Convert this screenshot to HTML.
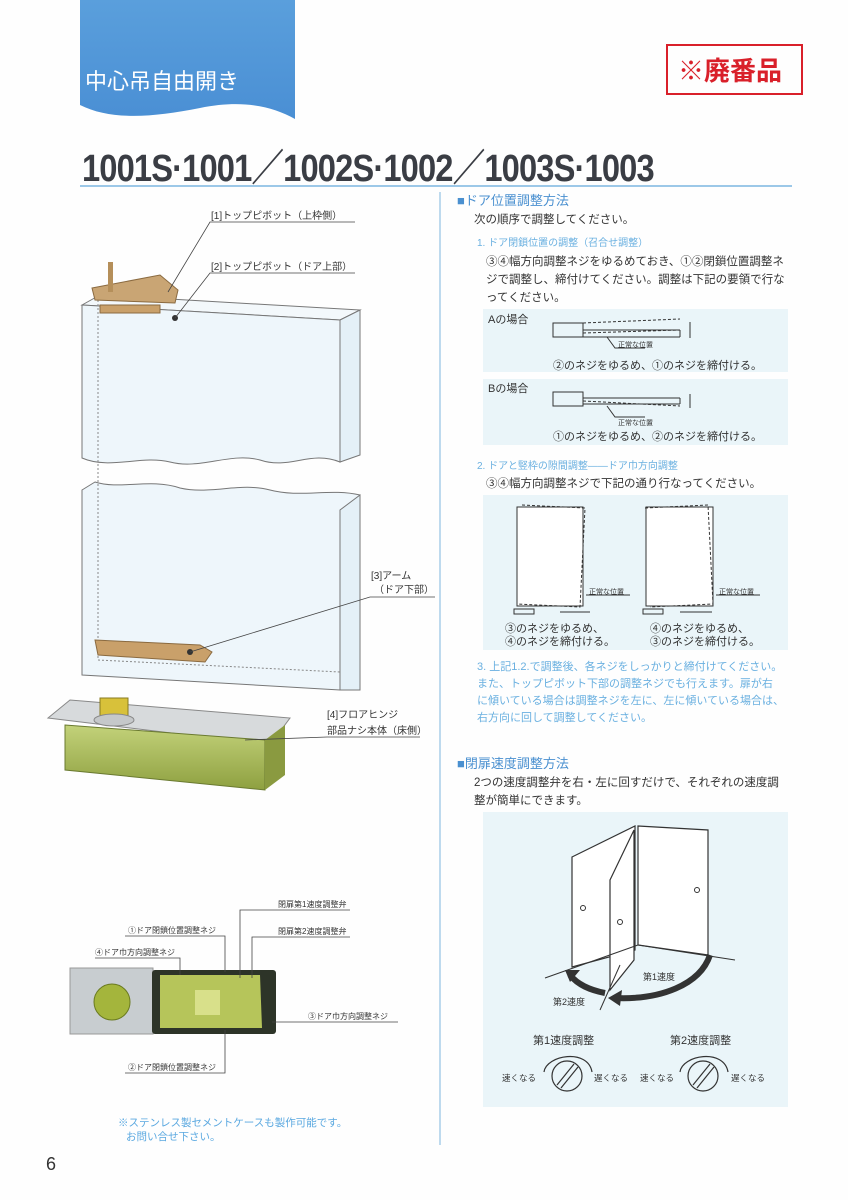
<!DOCTYPE html>
<html><head><meta charset="utf-8"><style>
html,body{margin:0;padding:0;background:#fff}
svg{display:block}
text{font-family:"Liberation Sans","Noto Sans CJK JP",sans-serif}
</style></head><body>
<svg width="848" height="1200" viewBox="0 0 848 1200" xmlns="http://www.w3.org/2000/svg">
<rect width="848" height="1200" fill="#fefefe"/>
<defs><linearGradient id="bt" x1="0" y1="0" x2="0" y2="1"><stop offset="0" stop-color="#5a9fdc"/><stop offset="1" stop-color="#4a8fd4"/></linearGradient>
<linearGradient id="gr" x1="0" y1="0" x2="0" y2="1"><stop offset="0" stop-color="#c3d27a"/><stop offset="1" stop-color="#8ea040"/></linearGradient></defs>
<path d="M80 0 H295 V119 C270 105 240 100 200 108 C150 118 110 120 80 105 Z" fill="url(#bt)"/>
<text x="85" y="89" font-size="22" fill="#fff">中心吊自由開き</text>
<rect x="667" y="45" width="135" height="49" fill="none" stroke="#d9202a" stroke-width="2"/>
<text x="678" y="80" font-size="26" font-weight="bold" fill="#d9202a">※廃番品</text>
<text x="82" y="181" font-size="38" font-weight="bold" fill="#3a3d44" transform="translate(82 0) scale(0.86 1) translate(-82 0)" letter-spacing="-1">1001S·1001／1002S·1002／1003S·1003</text>
<line x1="80" y1="186" x2="792" y2="186" stroke="#9cc8e8" stroke-width="2"/>
<line x1="440" y1="192" x2="440" y2="1145" stroke="#a8cde8" stroke-width="1.5"/>

<g stroke="#777" stroke-width="1" fill="#eef6fb">
<path d="M82 305 L100 295 L360 310 L340 320 Z" fill="#f3f8fb"/>
<path d="M340 320 L360 310 L360 455 L340 462 Z" fill="#e4f0f7"/>
<path d="M82 305 L340 320 L340 462 C310 450 290 470 260 460 C230 452 200 470 170 462 C140 455 110 470 82 458 Z"/>
<path d="M82 490 L95 482 C120 490 150 478 180 488 C210 495 240 482 270 490 C300 498 330 488 360 495 L360 690 L340 690 L82 675 Z"/>
<path d="M340 510 L360 495 L360 690 L340 690 Z" fill="#e4f0f7"/>
</g>
<line x1="340" y1="510" x2="340" y2="690" stroke="#777"/>
<line x1="98" y1="300" x2="98" y2="660" stroke="#888" stroke-dasharray="2 2"/>
<line x1="98" y1="660" x2="340" y2="672" stroke="#888" stroke-dasharray="2 2"/>
<path d="M92 288 L160 275 L178 290 L175 303 L95 300 Z" fill="#c9a574" stroke="#8a6a40"/>
<rect x="108" y="262" width="5" height="30" fill="#b58f5a"/>
<rect x="100" y="305" width="60" height="8" fill="#c9a06a" stroke="#8a6a40"/>
<circle cx="175" cy="318" r="3" fill="#333"/>
<path d="M95 640 L200 645 L212 652 L205 662 L98 655 Z" fill="#c9a06a" stroke="#8a6a40"/>
<circle cx="190" cy="652" r="3" fill="#333"/>
<path d="M48 718 L70 700 L290 718 L270 745 Z" fill="#d7dadc" stroke="#888"/>
<path d="M65 725 L265 740 L265 790 L65 770 Z" fill="url(#gr)" stroke="#6a7a30"/>
<path d="M265 740 L285 725 L285 775 L265 790 Z" fill="#8a9a40"/>
<rect x="100" y="698" width="28" height="22" fill="#d8c13a" stroke="#887a20"/>
<ellipse cx="114" cy="720" rx="20" ry="6" fill="#c5c8ca" stroke="#888"/>
<g font-size="10" fill="#333">
<text x="211" y="219">[1]トップピボット（上枠側）</text>
<text x="211" y="270">[2]トップピボット（ドア上部）</text>
<text x="371" y="579">[3]アーム</text><text x="374" y="593">（ドア下部）</text>
<text x="327" y="718">[4]フロアヒンジ</text><text x="327" y="734">部品ナシ本体（床側）</text>
</g>
<g stroke="#444" fill="none" stroke-width="0.8">
<polyline points="355,222 210,222 168,292"/>
<polyline points="355,273 210,273 175,318"/>
<polyline points="435,597 370,597 190,652"/>
<polyline points="420,737 327,737 245,740"/>
</g>
<rect x="70" y="968" width="83" height="66" fill="#c8cdd0" stroke="#999"/>
<circle cx="112" cy="1002" r="18" fill="#a4b53c" stroke="#6a7a20"/>
<rect x="152" y="970" width="124" height="64" rx="3" fill="#2d3428"/>
<path d="M160 975 H260 L262 1028 H160 Z" fill="#b6c55a"/>
<rect x="195" y="990" width="25" height="25" fill="#d8e08a"/>
<g stroke="#444" fill="none" stroke-width="0.8">
<polyline points="95,958 180,958 180,975"/>
<polyline points="125,936 225,936 225,972"/>
<polyline points="350,910 240,910 240,978"/>
<polyline points="350,937 252,937 252,978"/>
<polyline points="398,1022 272,1022"/>
<polyline points="125,1073 225,1073 225,1030"/>
</g>
<g font-size="8" fill="#333">
<text x="95" y="955">④ドア巾方向調整ネジ</text>
<text x="128" y="933">①ドア閉鎖位置調整ネジ</text>
<text x="278" y="907">閉扉第1速度調整弁</text>
<text x="278" y="934">閉扉第2速度調整弁</text>
<text x="308" y="1019">③ドア巾方向調整ネジ</text>
<text x="128" y="1070">②ドア閉鎖位置調整ネジ</text>
</g>
<text x="118" y="1126" font-size="10.5" fill="#5aa8e0">※ステンレス製セメントケースも製作可能です。</text>
<text x="126" y="1140" font-size="10.5" fill="#5aa8e0">お問い合せ下さい。</text>
<text x="46" y="1170" font-size="18" fill="#333" font-family="Liberation Serif,serif">6</text>

<text x="457" y="205" font-size="13" fill="#4a90d0">■ドア位置調整方法</text>
<text x="474" y="223" font-size="11.5" fill="#333">次の順序で調整してください。</text>
<text x="477" y="246" font-size="10" fill="#6ab0e0">1.  ドア閉鎖位置の調整（召合せ調整）</text>
<g font-size="11.5" fill="#333">
<text x="486" y="265">③④幅方向調整ネジをゆるめておき、①②閉鎖位置調整ネ</text>
<text x="486" y="283">ジで調整し、締付けてください。調整は下記の要領で行な</text>
<text x="486" y="301">ってください。</text>
</g>
<rect x="483" y="309" width="305" height="63" fill="#eaf5f9"/>
<rect x="483" y="379" width="305" height="66" fill="#eaf5f9"/>
<g font-size="11" fill="#333">
<text x="488" y="323">Aの場合</text>
<text x="488" y="392">Bの場合</text>
<text x="553" y="369">②のネジをゆるめ、①のネジを締付ける。</text>
<text x="553" y="440">①のネジをゆるめ、②のネジを締付ける。</text>
</g>
<g stroke="#333" fill="none" stroke-width="1">
<rect x="553" y="323" width="30" height="14"/><line x1="583" y1="330" x2="680" y2="330"/><line x1="583" y1="337" x2="680" y2="337"/><line x1="680" y1="330" x2="680" y2="337"/>
<line x1="583" y1="323" x2="680" y2="319" stroke-dasharray="3 2"/><line x1="583" y1="333" x2="680" y2="330" stroke-dasharray="3 2"/>
<line x1="690" y1="322" x2="690" y2="338"/><polyline points="607,337 615,348 645,348"/>
<rect x="553" y="392" width="30" height="14"/><line x1="583" y1="398" x2="680" y2="398"/><line x1="583" y1="404" x2="680" y2="404"/><line x1="680" y1="398" x2="680" y2="404"/>
<line x1="583" y1="401" x2="680" y2="406" stroke-dasharray="3 2"/>
<line x1="690" y1="394" x2="690" y2="408"/><polyline points="607,406 615,417 645,417"/>
</g>
<text x="618" y="347" font-size="7" fill="#333">正常な位置</text>
<text x="618" y="425" font-size="7" fill="#333">正常な位置</text>

<text x="477" y="469" font-size="10" fill="#6ab0e0">2.  ドアと竪枠の隙間調整――ドア巾方向調整</text>
<text x="486" y="487" font-size="11.5" fill="#333">③④幅方向調整ネジで下記の通り行なってください。</text>
<rect x="483" y="495" width="305" height="155" fill="#eaf5f9"/>
<g stroke="#333" fill="#fff">
<rect x="517" y="507" width="66" height="99"/><rect x="646" y="507" width="67" height="99"/>
</g>
<g stroke="#333" fill="none" stroke-dasharray="3 2">
<path d="M522 505 L585 508 L580 607 L517 604"/><path d="M645 508 L708 505 L713 604 L650 607"/>
</g>
<g stroke="#333" fill="none">
<rect x="514" y="609" width="20" height="5"/><rect x="643" y="609" width="20" height="5"/>
<line x1="560" y1="612" x2="590" y2="612"/><line x1="680" y1="612" x2="712" y2="612"/>
<line x1="586" y1="595" x2="630" y2="595"/><line x1="716" y1="595" x2="760" y2="595"/>
</g>
<text x="589" y="594" font-size="7" fill="#333">正常な位置</text>
<text x="719" y="594" font-size="7" fill="#333">正常な位置</text>
<g font-size="11" fill="#333">
<text x="505" y="632">③のネジをゆるめ、</text><text x="505" y="645">④のネジを締付ける。</text>
<text x="650" y="632">④のネジをゆるめ、</text><text x="650" y="645">③のネジを締付ける。</text>
</g>
<g font-size="11" fill="#6ab0e0">
<text x="477" y="670">3. 上記1.2.で調整後、各ネジをしっかりと締付けてください。</text>
<text x="477" y="687">また、トップピボット下部の調整ネジでも行えます。扉が右</text>
<text x="477" y="704">に傾いている場合は調整ネジを左に、左に傾いている場合は、</text>
<text x="477" y="721">右方向に回して調整してください。</text>
</g>
<text x="457" y="768" font-size="13" fill="#4a90d0">■閉扉速度調整方法</text>
<text x="474" y="786" font-size="11.5" fill="#333">2つの速度調整弁を右・左に回すだけで、それぞれの速度調</text>
<text x="474" y="804" font-size="11.5" fill="#333">整が簡単にできます。</text>
<rect x="483" y="812" width="305" height="295" fill="#eaf5f9"/>
<g stroke="#333" fill="#fff" stroke-width="1.2">
<path d="M572 857 L635 826 L635 950 L572 967 Z"/>
<path d="M638 826 L708 830 L708 955 L638 945 Z"/>
<path d="M610 880 L634 830 L634 960 L610 990 Z"/>
</g>
<g stroke="#333" fill="none"><line x1="545" y1="978" x2="638" y2="945"/><line x1="638" y1="945" x2="735" y2="960"/><line x1="600" y1="1010" x2="620" y2="965"/>
<circle cx="583" cy="908" r="2.5"/><circle cx="620" cy="922" r="2.5"/><circle cx="697" cy="890" r="2.5"/></g>
<path d="M710 955 C700 985 660 1000 615 998" stroke="#333" stroke-width="6" fill="none"/>
<path d="M608 998 L622 990 L620 1006 Z" fill="#333"/>
<path d="M605 993 C590 990 578 985 570 975" stroke="#333" stroke-width="6" fill="none"/>
<path d="M565 970 L580 970 L570 982 Z" fill="#333"/>
<text x="643" y="980" font-size="9" fill="#333">第1速度</text>
<text x="553" y="1005" font-size="9" fill="#333">第2速度</text>
<text x="533" y="1044" font-size="11" fill="#333">第1速度調整</text>
<text x="670" y="1044" font-size="11" fill="#333">第2速度調整</text>
<g stroke="#333" fill="none" stroke-width="1.2">
<circle cx="567" cy="1076" r="15"/><circle cx="703" cy="1076" r="15"/>
<line x1="557" y1="1085" x2="574" y2="1064"/><line x1="561" y1="1088" x2="578" y2="1067"/>
<line x1="693" y1="1085" x2="710" y2="1064"/><line x1="697" y1="1088" x2="714" y2="1067"/>
<path d="M544 1072 C546 1055 588 1048 592 1072"/><path d="M680 1072 C682 1055 724 1048 728 1072"/>
</g>
<g font-size="8.5" fill="#333">
<text x="502" y="1081">速くなる</text><text x="594" y="1081">遅くなる</text>
<text x="640" y="1081">速くなる</text><text x="731" y="1081">遅くなる</text>
</g>
</svg>
</body></html>
